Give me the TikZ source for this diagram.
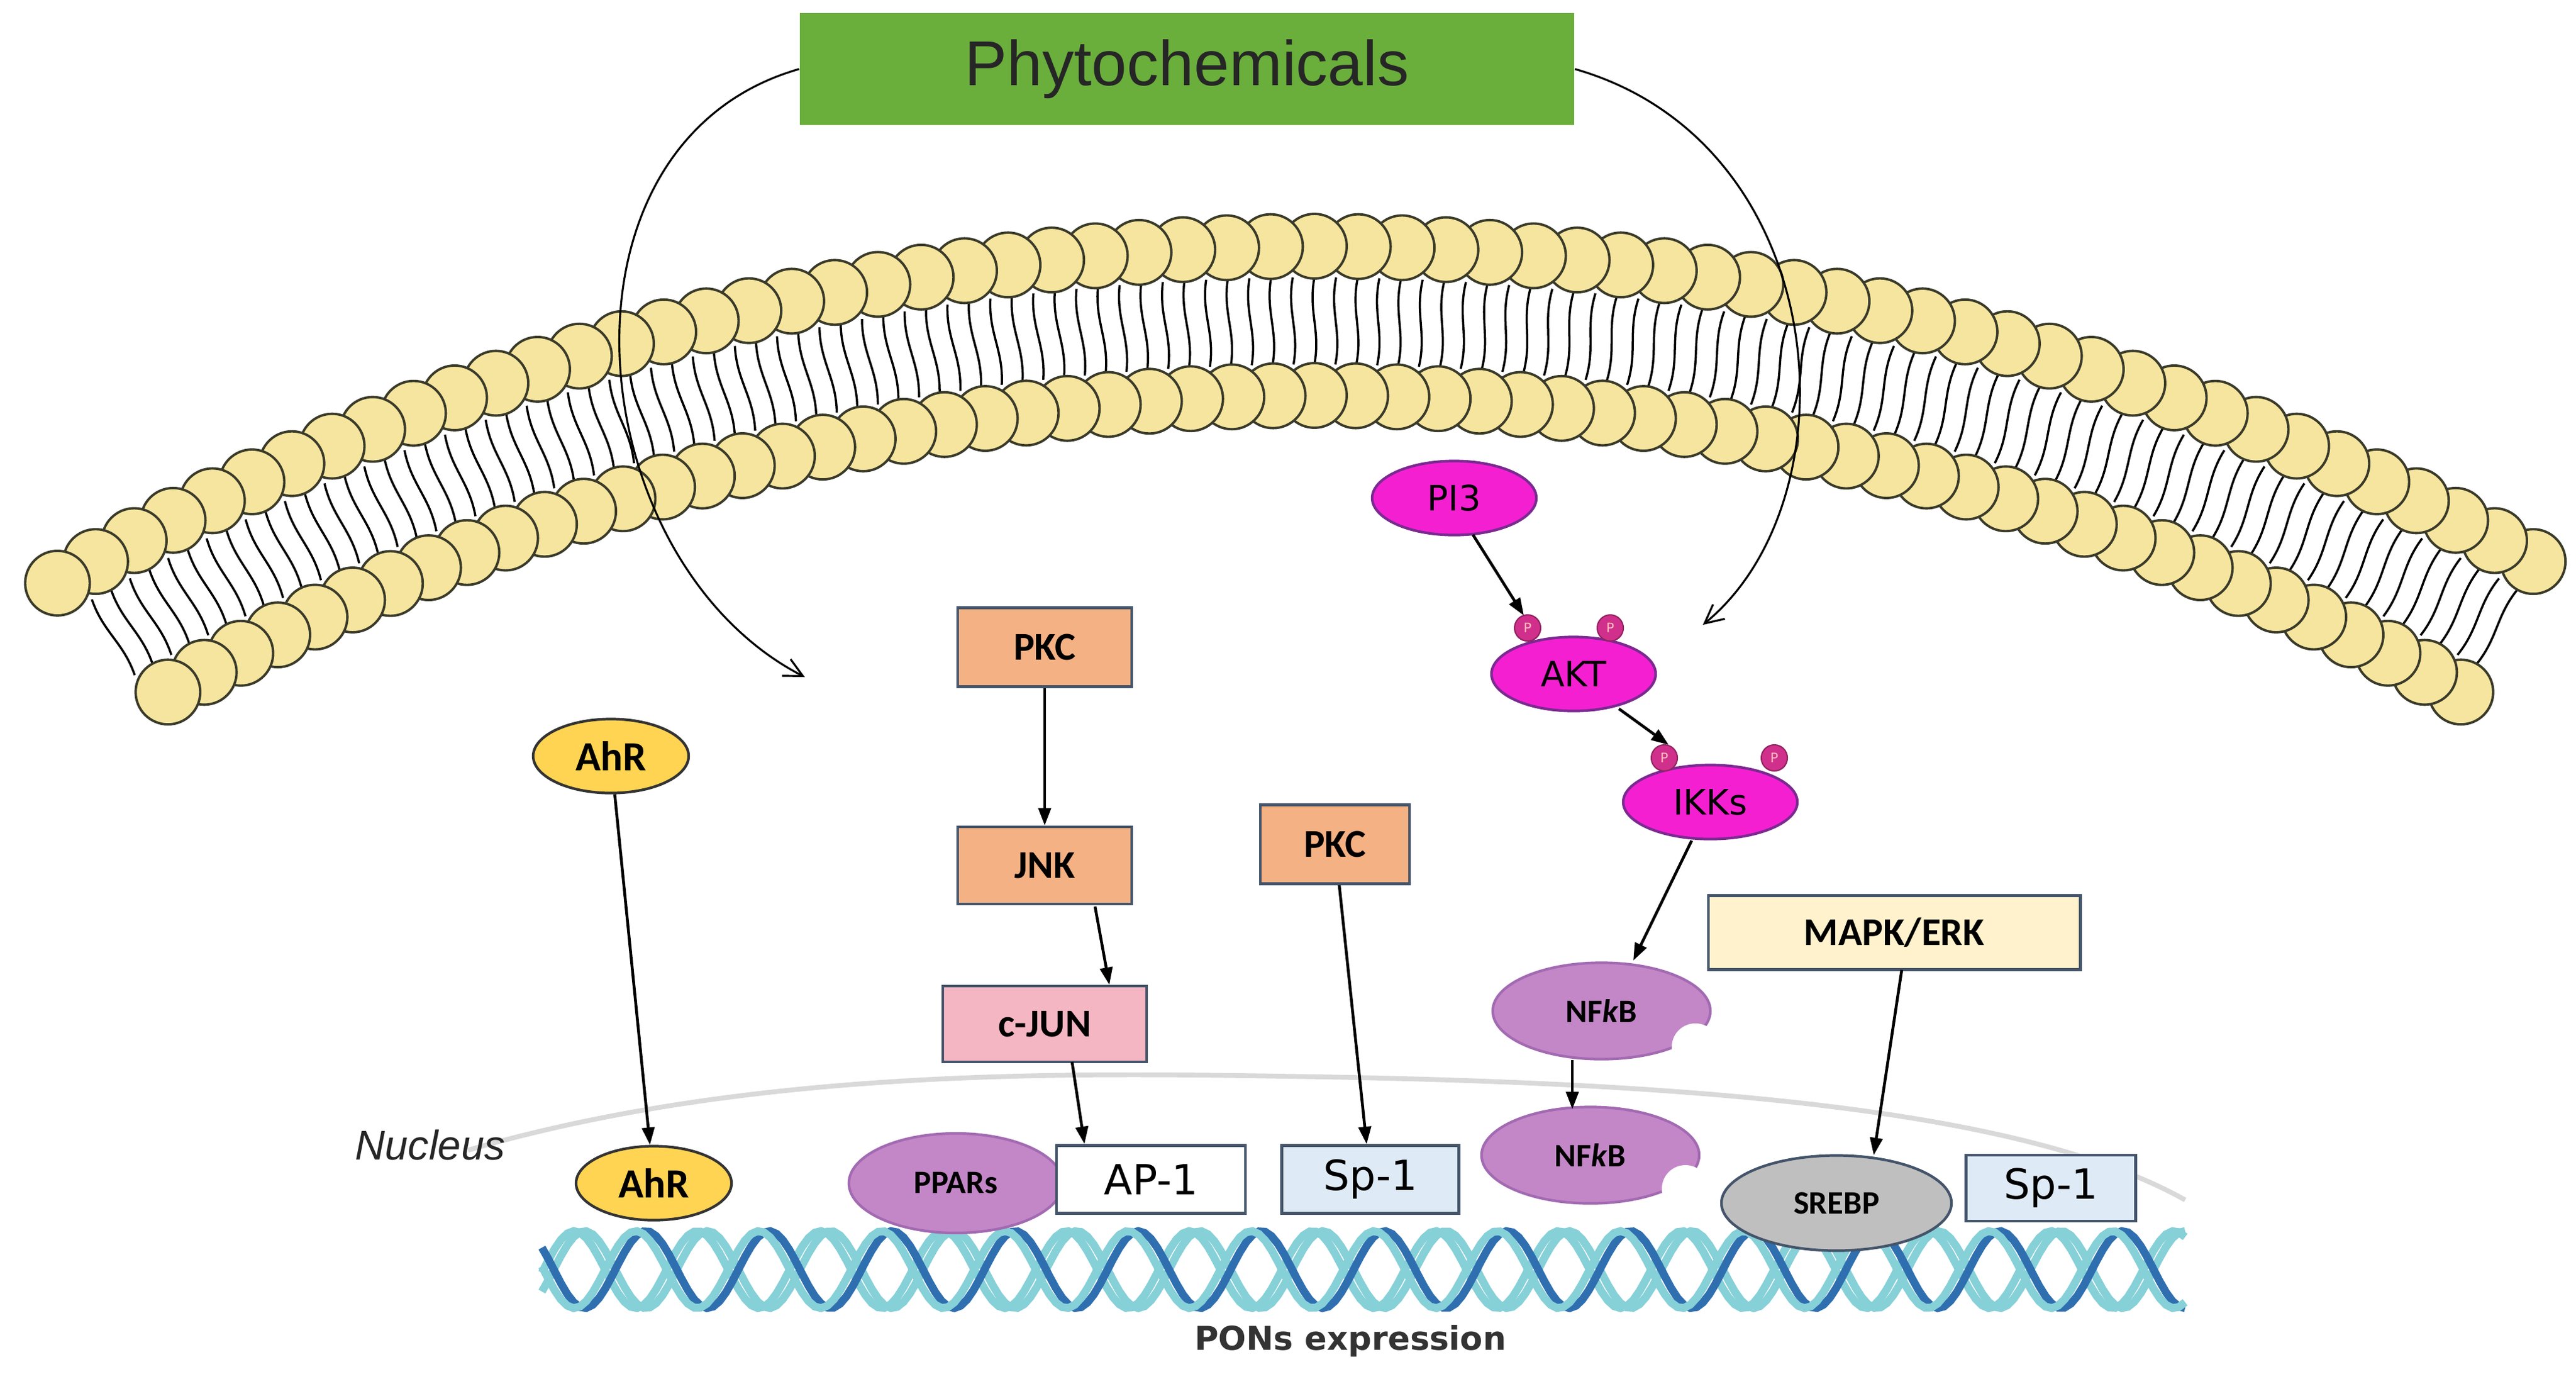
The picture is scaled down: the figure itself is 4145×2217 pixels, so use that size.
\documentclass[tikz,border=0pt]{standalone}
\usepackage{fontspec}
\setmainfont{Liberation Sans}
\newfontfamily\carl{Carlito}
\newfontfamily\dej{DejaVu Sans}
\usetikzlibrary{arrows.meta,shapes.geometric}
\definecolor{headfill}{HTML}{F6E59E}
\definecolor{headdraw}{HTML}{3A3A2A}
\definecolor{mag}{HTML}{F51FD2}
\definecolor{magd}{HTML}{7A2A90}
\definecolor{pbump}{HTML}{D0308C}
\definecolor{gold}{HTML}{FFD452}
\definecolor{salm}{HTML}{F4B183}
\definecolor{pinkb}{HTML}{F4B6C2}
\definecolor{cream}{HTML}{FFF2CC}
\definecolor{lav}{HTML}{C387C8}
\definecolor{lblue}{HTML}{DEEBF7}
\definecolor{bord}{HTML}{44546A}
\definecolor{green}{HTML}{6AAE3C}
\definecolor{dnat}{HTML}{86D0D8}
\definecolor{dnab}{HTML}{2F6FB0}
\begin{document}
\begin{tikzpicture}[x=0.01cm,y=-0.01cm,
  box/.style={draw=bord,line width=1.3pt,minimum width=#1,inner sep=0pt,font=\carl\bfseries\fontsize{18}{20}\selectfont},
  magel/.style={ellipse,draw=magd,fill=mag,line width=1.2pt,minimum width=2.64cm,minimum height=1.19cm,inner sep=0pt,font=\dej\fontsize{16}{18}\selectfont},
  lavel/.style={ellipse,draw=magd!70,fill=lav,line width=1.2pt,minimum width=3.5cm,minimum height=1.55cm,inner sep=0pt,font=\carl\bfseries\fontsize{15}{17}\selectfont},
  goldel/.style={ellipse,draw=black!80,fill=gold,line width=1.2pt,minimum width=2.5cm,minimum height=1.19cm,inner sep=0pt,font=\carl\bfseries\fontsize{19}{21}\selectfont},
  arr/.style={-{Triangle[length=0.28cm,width=0.2cm]},line width=1.3pt},
  phy/.style={-{Straight Barb[length=0.3cm,width=0.3cm]},line width=0.9pt},
  pb/.style={circle,fill=pbump,draw=pbump!70!black,line width=0.6pt,minimum size=0.42cm,inner sep=0pt,font=\dej\fontsize{6}{6}\selectfont\color{pink}}]
\useasboundingbox (0,0) rectangle (4145,2217);
\fill[white] (0,0) rectangle (4145,2217);
% membrane tails
\foreach \a in {61,61.5,...,119.5}{
  \draw[line width=1pt,black] ({2115+3995*cos(\a)},{4441-3995*sin(\a)}) .. controls ({2115+3940*cos(\a+0.15)},{4441-3940*sin(\a+0.15)}) and ({2115+3910*cos(\a-0.15)},{4441-3910*sin(\a-0.15)}) .. ({2115+3855*cos(\a)},{4441-3855*sin(\a)});
}
% heads
\foreach \a in {61,62,...,120}{
  \filldraw[fill=headfill,draw=headdraw,line width=1.1pt] ({2115+4045*cos(\a)},{4441-4045*sin(\a)}) circle (52);
}
\foreach \a in {61,62,...,119}{
  \filldraw[fill=headfill,draw=headdraw,line width=1.1pt] ({2115+3805*cos(\a)},{4441-3805*sin(\a)}) circle (52);
}
% nucleus envelope
\draw[line width=2.2pt,black!15] (753,1850) .. controls (1200,1720) and (1700,1725) .. (2062,1731) .. controls (2700,1740) and (3250,1780) .. (3516,1930);
% DNA
\foreach \ph/\c in {0/dnat,30/dnat,180/dnab,210/dnat}{
  \draw[line width=3.6pt,\c] plot[domain=872:3516,samples=260] (\x,{2042+62*sin(\x*1.818+\ph)});
}
% title
\node[fill=green,minimum width=12.46cm,minimum height=1.8cm,inner sep=0pt,font=\fontsize{29}{31}\selectfont,text=black!85] (phy) at (1910,111) {Phytochemicals};
\coordinate (lt) at (1295,1089);
\coordinate (rt) at (2740,1005);
\draw[phy] (phy.west) .. controls (870,230) and (930,900) .. (lt);
\draw[phy] (phy.east) .. controls (2950,230) and (2990,800) .. (rt);
% nodes
\node[goldel] (ahr1) at (983,1216) {AhR};
\node[goldel] (ahr2) at (1052,1903) {AhR};
\node[box=2.8cm,minimum height=1.27cm,fill=salm] (pkc1) at (1681,1041) {PKC};
\node[box=2.8cm,minimum height=1.24cm,fill=salm] (jnk) at (1681,1392) {JNK};
\node[box=3.28cm,minimum height=1.22cm,fill=pinkb] (cjun) at (1681,1647) {c-JUN};
\node[box=2.4cm,minimum height=1.27cm,fill=salm] (pkc2) at (2148,1358) {PKC};
\node[box=5.98cm,minimum height=1.19cm,fill=cream] (mapk) at (3048,1500) {MAPK/ERK};
\node[magel] (pi3) at (2340,801) {PI3};
\node[magel] (akt) at (2532,1084) {AKT};
\node[pb] at (2458,1010) {P};
\node[pb] at (2591,1010) {P};
\node[magel,minimum width=2.8cm] (ikk) at (2752,1290) {IKKs};
\node[pb] at (2678,1219) {P};
\node[pb] at (2855,1219) {P};
\node[lavel] (nf1) at (2577,1626) {NF\textit{k}B};
\fill[white] (2728,1684) circle (38);
\node[lavel] (nf2) at (2559,1858) {NF\textit{k}B};
\fill[white] (2712,1912) circle (38);
\node[lavel,minimum width=3.44cm,minimum height=1.6cm] (ppar) at (1538,1903) {PPARs};
\node[box=3.04cm,minimum height=1.09cm,fill=white,font=\dej\fontsize{19}{21}\selectfont] (ap1) at (1852,1897) {AP-1};
\node[box=2.85cm,minimum height=1.09cm,fill=lblue,font=\dej\fontsize{19}{21}\selectfont] (sp1) at (2205,1897) {Sp-1};
\node[ellipse,draw=bord,fill=black!25,line width=1.2pt,minimum width=3.7cm,minimum height=1.53cm,inner sep=0pt,font=\carl\bfseries\fontsize{15}{17}\selectfont] (srebp) at (2955,1935) {SREBP};
\node[box=2.73cm,minimum height=1.06cm,fill=lblue,font=\dej\fontsize{19}{21}\selectfont] (sp2) at (3300,1911) {Sp-1};
\node[font=\itshape\fontsize{19}{21}\selectfont,text=black!85] (nuc) at (692,1842) {Nucleus};
\node[font=\dej\bfseries\fontsize{15}{17}\selectfont,text=black!80] (pons) at (2173,2157) {PONs expression};
% connector end points
\coordinate (j1) at (1762,1458); \coordinate (j2) at (1785,1584);
\coordinate (c1) at (1725,1708); \coordinate (c2) at (1745,1840);
\coordinate (p1) at (2370,860);  \coordinate (p2) at (2452,990);
\coordinate (a1) at (2605,1140); \coordinate (a2) at (2685,1198);
\coordinate (i1) at (2722,1352); \coordinate (i2) at (2628,1545);
\coordinate (n1) at (2530,1705); \coordinate (n2) at (2530,1784);
\coordinate (m1) at (3060,1560); \coordinate (m2) at (3015,1858);
% connectors
\draw[arr] (ahr1) -- (ahr2);
\draw[arr] (pkc1) -- (jnk);
\draw[arr] (j1) -- (j2);
\draw[arr] (c1) -- (c2);
\draw[arr] (pkc2) -- (sp1);
\draw[arr] (p1) -- (p2);
\draw[arr] (a1) -- (a2);
\draw[arr] (i1) -- (i2);
\draw[arr] (n1) -- (n2);
\draw[arr] (m1) -- (m2);
\end{tikzpicture}
\end{document}
